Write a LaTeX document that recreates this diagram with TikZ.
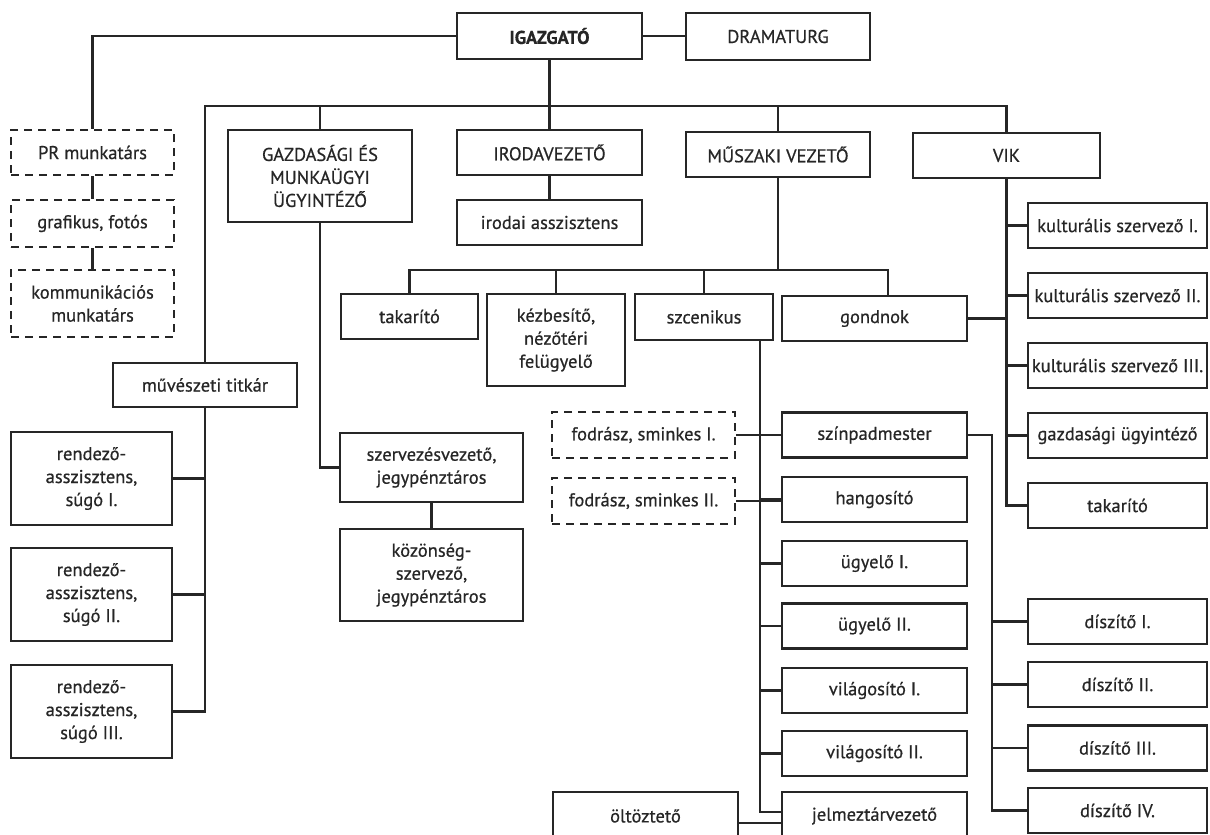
\documentclass[tikz,border=0pt]{standalone}
\usepackage{fontspec}
\setmainfont{PT Sans}[FakeBold=0.6]
\definecolor{ink}{RGB}{38,38,38}
\tikzset{
  box/.style={draw=ink, line width=2.2pt, text=ink, inner sep=0pt, align=center, font=\fontsize{18.5}{23}\selectfont},
  dbox/.style={box, dash pattern=on 8pt off 6pt},
  wh/.style 2 args={minimum width=#1pt, minimum height=#2pt},
  link/.style={draw=ink, line width=2.2pt}
}
\begin{document}
\begin{tikzpicture}[x=1pt,y=-1pt]
\clip (0,0) rectangle (1210,835);
\fill[white] (0,0) rectangle (1210,835);

\node[box,wh={185}{46}] (igazgato) at (549.5,36) {\bfseries IGAZGATÓ};
\node[box,wh={184}{47}] (dramaturg) at (778,36.5) {DRAMATURG};
\node[dbox,wh={163}{45}] (pr) at (92.5,152.5) {PR munkatárs};
\node[dbox,wh={163}{47}] (grafikus) at (92.5,223.5) {grafikus, fotós};
\node[dbox,wh={163}{67}] (kommunikacios) at (92.5,303.5) {kommunikációs\\munkatárs};
\node[box,wh={184}{92}] (gazdasagi) at (320,176) {GAZDASÁGI ÉS\\MUNKAÜGYI\\ÜGYINTÉZŐ};
\node[box,wh={185}{45}] (irodavezeto) at (549.5,152.5) {IRODAVEZETŐ};
\node[box,wh={185}{45}] (irodai) at (549.5,222.5) {irodai asszisztens};
\node[box,wh={184}{45}] (muszaki) at (778,154.5) {MŰSZAKI VEZETŐ};
\node[box,wh={187}{45}] (vik) at (1006.5,155.5) {VIK};

\node[box,wh={137}{45}] (takarito) at (409.5,316.5) {takarító};
\node[box,wh={138}{92}] (kezbesito) at (556,340) {kézbesítő,\\nézőtéri\\felügyelő};
\node[box,wh={138}{46}] (szcenikus) at (704,317) {szcenikus};
\node[box,wh={185}{45}] (gondnok) at (874.5,318.5) {gondnok};

\foreach \n/\y/\t in {kult1/225.5/kulturális szervező I., kult2/295.5/kulturális szervező II., kult3/365.5/kulturális szervező III., gazdugy/435.5/gazdasági ügyintéző, takarito2/505.5/takarító}
  \node[box,wh={179}{45}] (\n) at (1117.5,\y) {\t};

\node[dbox,wh={183}{46}] (fodrasz1) at (643.5,435) {fodrász, sminkes I.};
\node[dbox,wh={183}{46}] (fodrasz2) at (643.5,501) {fodrász, sminkes II.};
\foreach \n/\y/\t in {szinpad/435/színpadmester, hangosito/499.5/hangosító, ugyelo1/563.5/ügyelő I., ugyelo2/626/ügyelő II., vilag1/690.5/világosító I., vilag2/753.5/világosító II.}
  \node[box,wh={185}{45}] (\n) at (874.5,\y) {\t};
\node[box,wh={185}{48}] (jelmez) at (874.5,816) {jelmeztárvezető};
\node[box,wh={185}{48}] (oltozteto) at (645.5,816) {öltöztető};
\foreach \n/\y/\t in {disz1/621.5/díszítő I., disz2/684.5/díszítő II., disz3/748/díszítő III., disz4/810.5/díszítő IV.}
  \node[box,wh={179}{45}] (\n) at (1117.5,\y) {\t};

\node[box,wh={184}{44}] (muveszeti) at (205,385) {művészeti titkár};
\foreach \n/\y/\t in {rendezo1/478.5/I., rendezo2/594.5/II., rendezo3/711.5/III.}
  \node[box,wh={161}{93}] (\n) at (91.5,\y) {rendező-\\asszisztens,\\súgó \t};
\node[box,wh={183}{69}] (szervezes) at (431.5,467.5) {szervezésvezető,\\jegypénztáros};
\node[box,wh={183}{92}] (kozonseg) at (431.5,575) {közönség-\\szervező,\\jegypénztáros};

\coordinate (bus) at (549.5,106);
\coordinate (mbus) at (778,270);
\coordinate (dbus) at (992,435);
\coordinate (szbus) at (760,340);

\draw[link] (igazgato.east) -- (igazgato.east -| dramaturg.west);
\draw[link] (igazgato.west) -| (pr.north);
\draw[link] (pr) -- (grafikus);
\draw[link] (grafikus) -- (kommunikacios);
\draw[link] (igazgato) -- (irodavezeto);
\draw[link] (irodavezeto) -- (irodai);
\draw[link] (muveszeti.north) |- (bus) -| (vik.north);
\draw[link] (gazdasagi.north) |- (bus);
\draw[link] (muszaki.north) |- (bus);
\draw[link] (gazdasagi.south) |- (szervezes.west);
\draw[link] (szervezes) -- (kozonseg);
\foreach \n in {rendezo1,rendezo2,rendezo3}
  \draw[link] (\n.east) -| (muveszeti.south);
\draw[link] (muszaki.south) -- (mbus);
\foreach \n in {takarito,kezbesito,szcenikus}
  \draw[link] (\n.north) |- (mbus);
\draw[link] ([xshift=13.5pt]gondnok.north) |- (mbus);
\foreach \n in {kult1,kult2,kult3,gazdugy,takarito2}
  \draw[link] (\n.west) -| (vik.south);
\draw[link] (gondnok.east) -- (gondnok.east -| vik.south);
\draw[link] (szbus) |- ([yshift=4pt]jelmez.west);
\foreach \n in {szinpad,hangosito,ugyelo1,ugyelo2,vilag1,vilag2}
  \draw[link] (\n.west) -- (\n.west -| szbus);
\draw[link] (fodrasz1) -- (szinpad);
\draw[link] (fodrasz2.east) -- (fodrasz2.east -| hangosito.west);
\draw[link] (szinpad.east) -- (dbus) |- (disz4.west);
\foreach \n in {disz1,disz2,disz3}
  \draw[link] (\n.west) -- (\n.west -| dbus);
\draw[link] ([yshift=-7pt]oltozteto.east) -- ([yshift=-7pt]jelmez.west);
\end{tikzpicture}
\end{document}
